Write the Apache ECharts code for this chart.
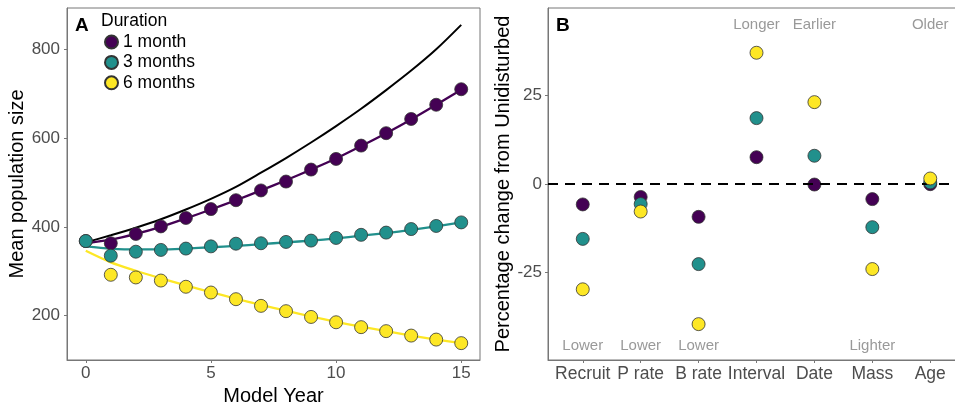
<!DOCTYPE html>
<html>
<head>
<meta charset="utf-8">
<script src="https://cdn.jsdelivr.net/npm/echarts@6/dist/echarts.min.js"></script>
<style>
  html, body { margin: 0; padding: 0; background: #fff; }
  #chart { width: 955px; height: 406px; }
</style>
</head>
<body>
<div id="chart"></div>
<script>
// panel A: model years
const years = [0, 1, 2, 3, 4, 5, 6, 7, 8, 9, 10, 11, 12, 13, 14, 15]
// fitted curves
const fitUndisturbed = [365, 381, 398, 417, 439, 463, 490, 522, 555, 590, 627, 666, 708, 752, 800, 855]
const fit1 = [363, 371, 384, 400, 419, 439, 460, 482, 505, 529, 554, 582, 611, 642, 675, 709]
const fit3 = [356, 351, 349, 349, 351, 354, 357, 361, 365, 369, 374, 380, 386, 393, 401, 410]
const fit6 = [346, 320, 301, 284, 268, 253, 238, 224, 211, 198, 186, 175, 165, 155, 146, 138]
// simulated means
const pts1 = [368, 363, 384, 401, 420, 440, 460, 482, 502, 529, 553, 583, 611, 643, 675, 710]
const pts3 = [368, 335, 344, 348, 351, 356, 362, 363, 366, 369, 375, 382, 387, 395, 402, 410]
const pts6 = [null, 292, 286, 279, 265, 252, 237, 222, 210, 197, 185, 174, 165, 155, 146, 138]

// panel B
const traits = ['Recruit', 'P rate', 'B rate', 'Interval', 'Date', 'Mass', 'Age']
const pct1 = [-5.8, -3.7, -9.3, 7.5, -0.2, -4.3, -0.1]
const pct3 = [-15.5, -5.7, -22.6, 18.5, 7.9, -12.2, 0.4]
const pct6 = [-29.7, -7.8, -39.5, 36.9, 23.0, -24.0, 1.5]
const upLabels = ['', '', '', 'Longer', 'Earlier', '', 'Older']
const downLabels = ['Lower', 'Lower', 'Lower', '', '', 'Lighter', '']

const durations = ['1 month', '3 months', '6 months']
const colors = ['#440154', '#21908C', '#FDE725']

const UP_Y = 44.7
const DOWN_Y = -45.6

const chart = echarts.init(document.getElementById('chart'), null, { renderer: 'canvas' })

const tickColor = '#4d4d4d'
const borderColor = '#777'

function pointStyle(i) {
  return { color: colors[i], borderColor: '#333', borderWidth: 0.8, opacity: 1 }
}

function valueAxis(extra) {
  return Object.assign({
    type: 'value',
    splitLine: { show: false },
    axisLine: { show: true, onZero: false, lineStyle: { color: borderColor, width: 1 } },
    axisTick: { show: true, length: 3, lineStyle: { color: borderColor } },
    nameLocation: 'middle',
    nameTextStyle: { fontSize: 20, color: '#000' },
  }, extra)
}

const series = []

// fitted lines, panel A
const fits = [fitUndisturbed, fit1, fit3, fit6]
const fitColors = ['#000', colors[0], colors[1], colors[2]]
fits.forEach((f, i) => {
  series.push({
    name: 'fit' + i,
    type: 'line',
    xAxisIndex: 0,
    yAxisIndex: 0,
    data: years.map((y, k) => [y, f[k]]),
    smooth: 0.3,
    showSymbol: false,
    symbol: 'none',
    lineStyle: { color: fitColors[i], width: i == 0 ? 2 : 2.3 },
    z: 1,
    silent: true,
  })
})

// points, panel A
const pts = [pts1, pts3, pts6]
pts.forEach((p, i) => {
  series.push({
    name: durations[i],
    type: 'scatter',
    xAxisIndex: 0,
    yAxisIndex: 0,
    data: years.map((y, k) => [y, p[k]]).filter(d => d[1] != null),
    symbolSize: 13,
    itemStyle: pointStyle(i),
    z: 3 + i,
  })
})

// zero line, panel B
series.push({
  name: 'zero',
  type: 'line',
  xAxisIndex: 1,
  yAxisIndex: 1,
  data: [],
  z: 1,
  markLine: {
    silent: true,
    symbol: ['none', 'none'],
    label: { show: false },
    lineStyle: { color: '#000', type: [10, 7], width: 2 },
    data: [{ yAxis: 0 }],
  },
})

// points, panel B
const pcts = [pct1, pct3, pct6]
pcts.forEach((p, i) => {
  series.push({
    name: durations[i],
    type: 'scatter',
    xAxisIndex: 1,
    yAxisIndex: 1,
    data: traits.map((t, k) => [k, p[k]]),
    symbolSize: 13,
    itemStyle: pointStyle(i),
    z: 3 + i,
  })
})

// direction notes, panel B
const notes = []
traits.forEach((t, k) => {
  if (upLabels[k]) notes.push({ name: upLabels[k], value: [k, UP_Y] })
  if (downLabels[k]) notes.push({ name: downLabels[k], value: [k, DOWN_Y] })
})
series.push({
  name: 'notes',
  type: 'scatter',
  xAxisIndex: 1,
  yAxisIndex: 1,
  data: notes,
  symbolSize: 1,
  itemStyle: { color: 'rgba(0,0,0,0)' },
  silent: true,
  label: { show: true, position: 'inside', formatter: '{b}', color: '#7f7f7f', fontSize: 15 },
})

const option = {
  animation: false,
  backgroundColor: '#fff',
  textStyle: { fontFamily: 'Liberation Sans' },
  title: [
    { text: 'A', left: 75, top: 16, padding: 0, textStyle: { fontSize: 19, fontWeight: 'bold', color: '#000' } },
    { text: 'Duration', left: 101, top: 12, padding: 0, textStyle: { fontSize: 17.5, fontWeight: 'normal', color: '#000' } },
    { text: 'B', left: 556, top: 16, padding: 0, textStyle: { fontSize: 19, fontWeight: 'bold', color: '#000' } },
  ],
  legend: {
    data: durations,
    orient: 'vertical',
    left: 104,
    top: 33,
    padding: 0,
    itemWidth: 13,
    itemHeight: 13,
    itemGap: 2.4,
    icon: 'circle',
    textStyle: { fontSize: 17.5, color: '#000', padding: [0, 0, 0, 0] },
    selectedMode: false,
  },
  grid: [
    { left: 67, top: 8, width: 413, height: 352, show: true, borderColor: borderColor, borderWidth: 1, outerBoundsMode: 'none' },
    { left: 548, top: 8, width: 417, height: 352, show: true, borderColor: borderColor, borderWidth: 1, outerBoundsMode: 'none' },
  ],
  xAxis: [
    valueAxis({
      gridIndex: 0,
      min: -0.75,
      max: 15.75,
      name: 'Model Year',
      nameGap: 22,
      axisTick: { show: true, length: 3, lineStyle: { color: borderColor }, customValues: [0, 5, 10, 15] },
      axisLabel: { customValues: [0, 5, 10, 15], fontSize: 17, color: tickColor, margin: 5 },
    }),
    valueAxis({
      gridIndex: 1,
      min: -0.6,
      max: 6.6,
      axisTick: { show: true, length: 3, lineStyle: { color: borderColor }, customValues: [0, 1, 2, 3, 4, 5, 6] },
      axisLabel: {
        customValues: [0, 1, 2, 3, 4, 5, 6],
        fontSize: 17.5, color: tickColor, margin: 5,
        formatter: v => traits[Math.round(v)],
      },
    }),
  ],
  yAxis: [
    valueAxis({
      gridIndex: 0,
      min: 100,
      max: 893,
      name: 'Mean population size',
      nameGap: 39,
      axisTick: { show: true, length: 3, lineStyle: { color: borderColor }, customValues: [200, 400, 600, 800] },
      axisLabel: { customValues: [200, 400, 600, 800], fontSize: 17, color: tickColor, margin: 7 },
    }),
    valueAxis({
      gridIndex: 1,
      min: -49.6,
      max: 49.5,
      name: 'Percentage change from Unidisturbed',
      nameGap: 34,
      axisTick: { show: true, length: 3, lineStyle: { color: borderColor }, customValues: [-25, 0, 25] },
      axisLabel: { customValues: [-25, 0, 25], fontSize: 17, color: tickColor, margin: 6 },
    }),
  ],
  series: series,
}

chart.setOption(option)
</script>
</body>
</html>
